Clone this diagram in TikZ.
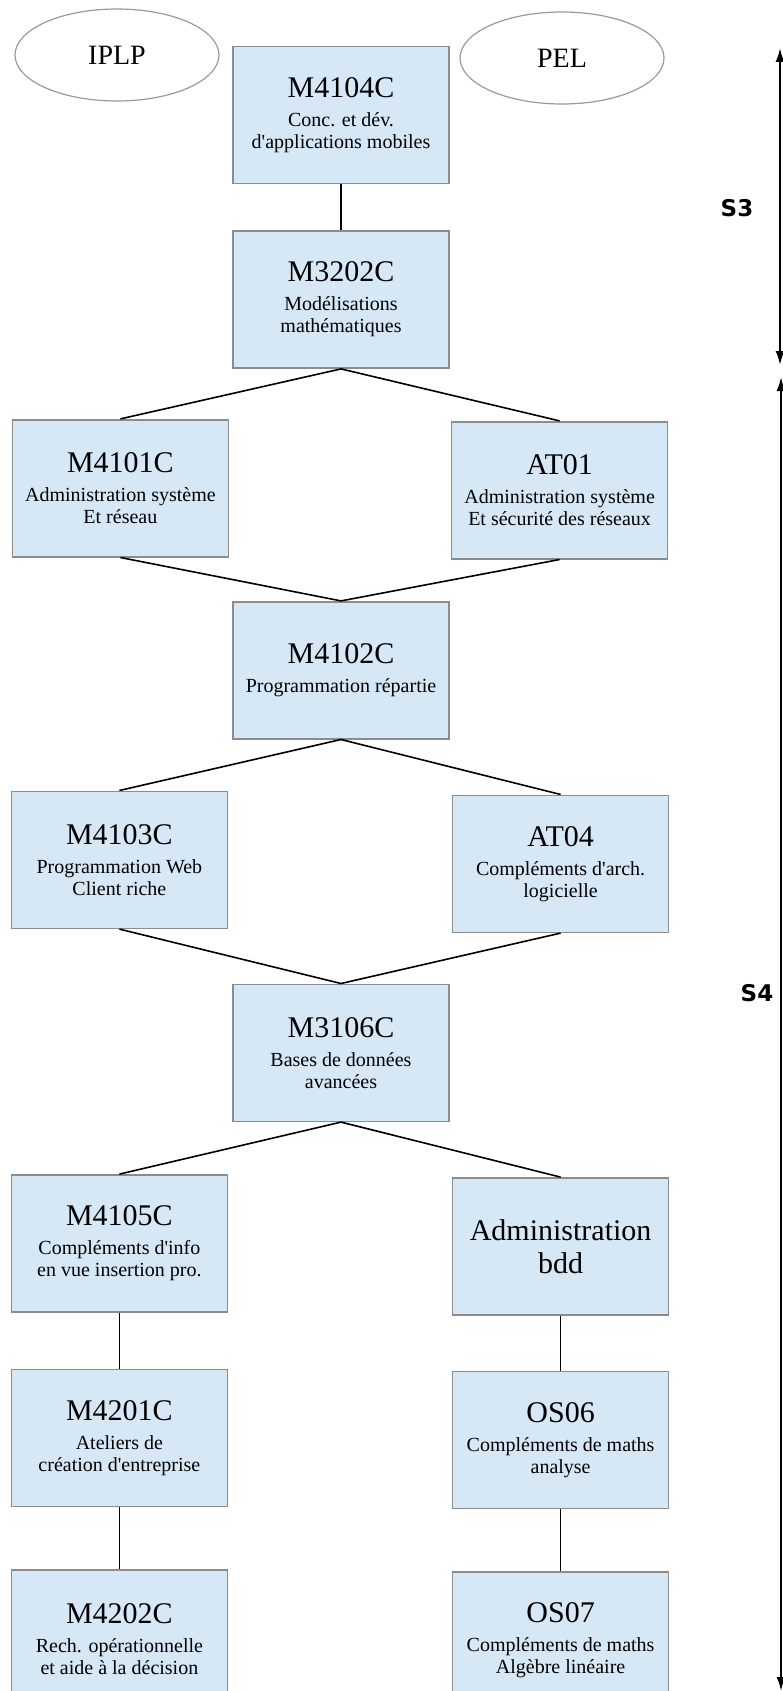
\documentclass[tikz,border=0pt]{standalone}
\usepackage{fontspec}
\setmainfont{Liberation Serif}
\newfontfamily\semfont{DejaVu Sans}
\usetikzlibrary{positioning,arrows.meta,shapes.geometric}

\definecolor{bleuue}{RGB}{214,232,245}
\definecolor{grisbord}{RGB}{140,140,140}

\newcommand{\titre}[1]{{\fontsize{30}{30}\selectfont #1}\\[7pt]}
\newcommand{\apos}{\textquotesingle}

\begin{document}
\begin{tikzpicture}[x=1pt, y=1pt, node distance=46pt,
    ue/.style={rectangle, draw=grisbord, line width=1.6pt, fill=bleuue,
        minimum width=216pt, minimum height=137pt, inner sep=2pt,
        align=center, font=\fontsize{20}{22}\selectfont},
    parcours/.style={ellipse, draw=gray!80, line width=1.2pt,
        minimum width=204pt, minimum height=92pt, font=\fontsize{28}{28}\selectfont},
    semestre/.style={font=\semfont\bfseries\fontsize{23}{23}\selectfont},
    lien/.style={draw, line width=1.6pt},
    duree/.style={{Latex[length=14pt,width=9pt]}-{Latex[length=14pt,width=9pt]}, line width=2pt}]

    \useasboundingbox (0,0) rectangle (783,-1691);

    % parcours
    \node [parcours] (iplp) at (117,-55) {IPLP};
    \node [parcours] (pel) at (562,-58) {PEL};

    % modules
    \node [ue] (m4104) at (341,-115) {\titre{M4104C}Conc. et dév.\\d\apos applications mobiles};
    \node [ue] [below=of m4104] (m3202) {\titre{M3202C}Modélisations\\mathématiques};
    \node [ue] [below left=50pt and 3pt of m3202] (m4101) {\titre{M4101C}Administration système\\Et réseau};
    \node [ue] [below right=52pt and 1pt of m3202] (at01) {\titre{AT01}Administration système\\Et sécurité des réseaux};
    \node [ue] [below=232pt of m3202] (m4102) {\titre{M4102C}Programmation répartie};
    \node [ue] [below left=51pt and 4pt of m4102] (m4103) {\titre{M4103C}Programmation Web\\Client riche};
    \node [ue] [below right=55pt and 2pt of m4102] (at04) {\titre{AT04}Compléments d\apos arch.\\logicielle};
    \node [ue] [below=244pt of m4102] (m3106) {\titre{M3106C}Bases de données\\avancées};
    \node [ue] [below left=52pt and 4pt of m3106] (m4105) {\titre{M4105C}Compléments d\apos info\\en vue insertion pro.};
    \node [ue, font=\fontsize{30}{33}\selectfont] [below right=55pt and 2pt of m3106] (bdd) {Administration\\bdd};
    \node [ue] [below=56pt of m4105] (m4201) {\titre{M4201C}Ateliers de\\création d\apos entreprise};
    \node [ue] [below=62pt of m4201] (m4202) {\titre{M4202C}Rech. opérationnelle\\et aide à la décision};
    \node [ue] [below=55pt of bdd] (os06) {\titre{OS06}Compléments de maths\\analyse};
    \node [ue] [below=62pt of os06] (os07) {\titre{OS07}Compléments de maths\\Algèbre linéaire};

    \path[lien]
    (m4104) edge (m3202)
    (m3202.south) edge (m4101.north)
    (m3202.south) edge (at01.north)
    (m4101.south) edge (m4102.north)
    (at01.south) edge (m4102.north)
    (m4102.south) edge (m4103.north)
    (m4102.south) edge (at04.north)
    (m4103.south) edge (m3106.north)
    (at04.south) edge (m3106.north)
    (m3106.south) edge (m4105.north)
    (m3106.south) edge (bdd.north)
    (m4105) edge (m4201)
    (m4201) edge (m4202)
    (bdd) edge (os06)
    (os06) edge (os07);

    % semestres
    \coordinate (s3haut) at (780,-48);
    \coordinate (s3bas) at (780,-365);
    \coordinate (s4haut) at (781,-377);
    \coordinate (s4bas) at (781,-1691);
    \draw[duree] (s3haut) -- (s3bas);
    \draw[duree] (s4haut) -- (s4bas);
    \node [semestre] (s3) at (737,-208) {S3};
    \node [semestre] (s4) at (757,-993) {S4};

\end{tikzpicture}
\end{document}
